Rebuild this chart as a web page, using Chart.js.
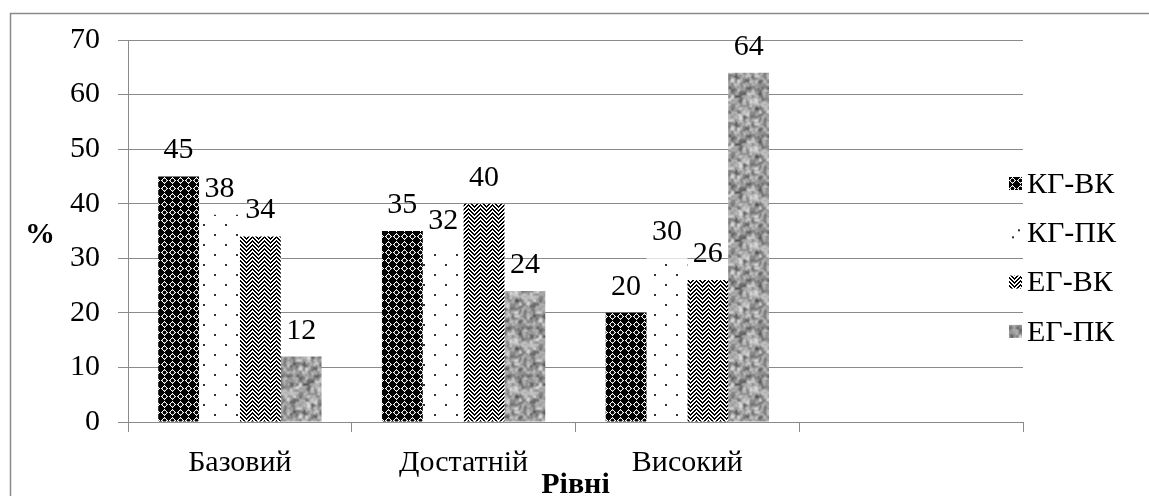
<!DOCTYPE html>
<html>
<head>
<meta charset="utf-8">
<script src="https://cdn.jsdelivr.net/npm/chart.js@4.4.1/dist/chart.umd.min.js"></script>
<style>
  html, body { margin:0; padding:0; background:#fff; }
  #wrap { width:1149px; height:496px; }
</style>
</head>
<body>
<div id="wrap"><canvas id="chart" width="1149" height="496"></canvas></div>
<script>
const categories = ["Базовий", "Достатній", "Високий", ""];
const seriesNames = ["КГ-ВК", "КГ-ПК", "ЕГ-ВК", "ЕГ-ПК"];
const kgVk = [45, 35, 20, null];
const kgPk = [38, 32, 30, null];
const egVk = [34, 40, 26, null];
const egPk = [12, 24, 64, null];
const yMax = 70;
const yStep = 10;
const xTitle = "Рівні";
const yTitle = "%";

const FONT = "'Liberation Serif', 'Times New Roman', serif";
const GRID = "#8a8a8a";

// --- fill patterns ---
function makeTile(w, h, draw){
  const c = document.createElement("canvas");
  c.width = w; c.height = h;
  draw(c.getContext("2d"), w, h);
  return c;
}
function pat(tile){
  return document.getElementById("chart").getContext("2d").createPattern(tile, "repeat");
}

// black with white diamond rings
const tileA = makeTile(8, 8, (g) => {
  g.fillStyle = "#000"; g.fillRect(0, 0, 8, 8);
  g.fillStyle = "#fff";
  [[4,1],[3,2],[5,2],[2,3],[6,3],[1,4],[7,4],[2,5],[6,5],[3,6],[5,6],[4,7]].forEach(p => g.fillRect(p[0], p[1], 1, 1));
  g.fillStyle = "#888";
  [[4,2],[2,4],[6,4],[4,6]].forEach(p => g.fillRect(p[0], p[1], 1, 1));
});
// sparse staggered dots
const tileB = makeTile(22, 20, (g) => {
  g.fillStyle = "#fff"; g.fillRect(0, 0, 22, 20);
  g.fillStyle = "#333";
  g.fillRect(5, 4, 2, 2);
  g.fillRect(16, 14, 2, 2);
});
// herringbone weave
const tileC = makeTile(12, 8, (g) => {
  g.fillStyle = "#fff"; g.fillRect(0, 0, 12, 8);
  g.fillStyle = "#000";
  for (let y = 0; y < 8; y++) {
    for (let x = 0; x < 12; x++) {
      const k = x < 6 ? ((y - x) % 4 + 4) % 4 : ((y + x) % 4 + 4) % 4;
      if (k < 2) g.fillRect(x, y, 1, 1);
    }
  }
});
// gray granite
const tileD = makeTile(48, 48, (g, w, h) => {
  const hash = (x, y) => {
    const s = Math.sin(x * 127.1 + y * 311.7) * 43758.5453;
    return s - Math.floor(s);
  };
  const noise = (x, y, cell) => {
    const n = w / cell;
    const gx = x / cell, gy = y / cell;
    const x0 = Math.floor(gx), y0 = Math.floor(gy);
    const fx = gx - x0, fy = gy - y0;
    const sx = fx * fx * (3 - 2 * fx), sy = fy * fy * (3 - 2 * fy);
    const v = (i, j) => hash(((x0 + i) % n + n) % n + cell * 7, ((y0 + j) % n + n) % n + cell * 3);
    const a = v(0,0) + (v(1,0) - v(0,0)) * sx;
    const b = v(0,1) + (v(1,1) - v(0,1)) * sx;
    return a + (b - a) * sy;
  };
  const img = g.createImageData(w, h);
  for (let y = 0; y < h; y++) {
    for (let x = 0; x < w; x++) {
      const v = 0.45 * noise(x, y, 4) + 0.35 * noise(x, y, 3) + 0.2 * noise(x, y, 2);
      const c = Math.max(80, Math.min(215, 60 + v * 190));
      const i = (y * w + x) * 4;
      img.data[i] = img.data[i + 1] = img.data[i + 2] = c;
      img.data[i + 3] = 255;
    }
  }
  g.putImageData(img, 0, 0);
});

const fills = [pat(tileA), pat(tileB), pat(tileC), pat(tileD)];
const seriesData = [kgVk, kgPk, egVk, egPk];

const valueLabels = {
  id: "valueLabels",
  afterDatasetsDraw(chart){
    const ctx = chart.ctx;
    ctx.save();
    ctx.font = "30px " + FONT;
    ctx.fillStyle = "#000";
    ctx.textAlign = "center";
    ctx.textBaseline = "alphabetic";
    chart.data.datasets.forEach((ds, i) => {
      chart.getDatasetMeta(i).data.forEach((bar, j) => {
        const v = ds.data[j];
        if (v == null) return;
        ctx.fillText(String(v), bar.x, bar.y - 18);
      });
    });
    ctx.restore();
  }
};

const extras = {
  id: "extras",
  afterDraw(chart){
    const ctx = chart.ctx;
    const area = chart.chartArea;
    ctx.save();
    // outer frame
    ctx.strokeStyle = GRID;
    ctx.lineWidth = 1.5;
    ctx.beginPath();
    ctx.moveTo(10.5, 496);
    ctx.lineTo(10.5, 13.5);
    ctx.lineTo(1149, 13.5);
    ctx.stroke();

    // axis titles
    ctx.fillStyle = "#000";
    ctx.font = "bold 30px " + FONT;
    ctx.textAlign = "center";
    ctx.textBaseline = "alphabetic";
    ctx.fillText(yTitle, 40, 243);
    ctx.fillText(xTitle, (area.left + area.right) / 2, 493);

    // legend
    ctx.font = "30px " + FONT;
    ctx.textAlign = "left";
    ctx.textBaseline = "middle";
    seriesNames.forEach((name, i) => {
      const cy = 184 + i * 49.3;
      ctx.fillStyle = fills[i];
      ctx.fillRect(1009, cy - 7, 13, 13);
      if (i === 1) {
        ctx.fillStyle = "#333";
        ctx.fillRect(1012, cy + 3, 2, 2);
        ctx.fillRect(1018, cy - 4, 2, 2);
      }
      ctx.fillStyle = "#000";
      ctx.fillText(name, 1027, cy + 1);
    });
    ctx.restore();
  }
};

new Chart(document.getElementById("chart"), {
  type: "bar",
  data: {
    labels: categories,
    datasets: seriesNames.map((name, i) => ({
      label: name,
      data: seriesData[i],
      backgroundColor: fills[i],
      borderWidth: 0,
      categoryPercentage: 0.73,
      barPercentage: 1.0
    }))
  },
  options: {
    responsive: false,
    devicePixelRatio: 1,
    animation: false,
    layout: { padding: { left: 0, top: 40, right: 126, bottom: 0 } },
    plugins: { legend: { display: false }, tooltip: { enabled: false } },
    scales: {
      x: {
        grid: { display: true, drawOnChartArea: false, drawTicks: true, tickLength: 10, color: GRID, offset: true },
        border: { display: true, color: GRID, width: 1 },
        ticks: { color: "#000", font: { family: FONT, size: 30 }, padding: 13, maxRotation: 0, autoSkip: false },
        afterFit(scale){ scale.height = 74; }
      },
      y: {
        min: 0,
        max: yMax,
        grid: { color: GRID, tickLength: 10, drawTicks: true },
        border: { display: true, color: GRID, width: 1 },
        ticks: { stepSize: yStep, color: "#000", font: { family: FONT, size: 30 }, padding: 18 },
        afterFit(scale){ scale.width = 128; }
      }
    }
  },
  plugins: [valueLabels, extras]
});
</script>
</body>
</html>
